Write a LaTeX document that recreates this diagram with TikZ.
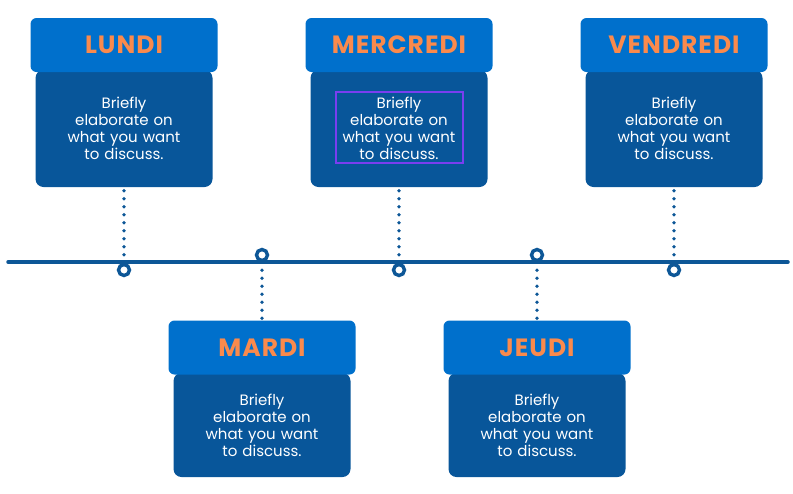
\documentclass[tikz,border=0pt]{standalone}
\usepackage{fontspec}
\setmainfont{Poppins}
\newfontfamily\headfont{Poppins}[BoldFont={* Bold}, LetterSpace=4]
\definecolor{headblue}{HTML}{0070CC}
\definecolor{bodyblue}{HTML}{08569A}
\definecolor{lineblue}{HTML}{0D5797}
\definecolor{dayorange}{HTML}{FA8A4C}
\definecolor{selpurple}{HTML}{7A3EF0}
\begin{document}
\begin{tikzpicture}[x=1pt,y=-1pt,
  cardbody/.style={fill=bodyblue, rounded corners=8pt, minimum width=177pt,
    minimum height=117pt, inner sep=0pt},
  cardhead/.style={fill=headblue, rounded corners=6pt, minimum width=187pt,
    minimum height=54pt, inner sep=0pt, text=dayorange,
    font=\headfont\bfseries\fontsize{25}{30}\selectfont},
  cardtext/.style={text=white, align=center, text width=134pt, inner sep=0pt,
    font=\fontsize{15}{17}\selectfont},
  stop/.style={circle, draw=lineblue, line width=3.4pt, fill=white,
    minimum size=11pt, inner sep=0pt},
  dots/.style={draw=lineblue, line width=3.8pt, line cap=round,
    dash pattern=on 0pt off 8pt},
]
\useasboundingbox (0,0) rectangle (793,493);

% timeline axis
\coordinate (axisL) at (8,262);
\coordinate (axisR) at (788,262);
\draw[lineblue, line width=3.5pt, line cap=round] (axisL) -- (axisR);

% cards above the axis
\foreach \name/\x/\day in {lun/124/LUNDI, mer/399/MERCREDI, ven/674/VENDREDI}{
  \node[cardbody] (\name b) at (\x,128.5) {};
  \node[cardhead] (\name h) at (\x,45) {\day};
  \node[cardtext] (\name t) at (\x,128.5) {Briefly\\elaborate on\\what you want\\to discuss.};
  \node[stop] (\name s) at (\x,270) {};
  \draw[dots] (\name s.north) ++(0,-8) -- (\name b.south);
}

% cards below the axis
\foreach \name/\x/\day in {mar/262/MARDI, jeu/537/JEUDI}{
  \node[cardbody, minimum height=104pt] (\name b) at (\x,425) {};
  \node[cardhead] (\name h) at (\x,347.5) {\day};
  \node[cardtext] (\name t) at (\x,425.5) {Briefly\\elaborate on\\what you want\\to discuss.};
  \node[stop] (\name s) at (\x,255) {};
  \draw[dots] (\name s.south) ++(0,8) -- (\name h.north);
}

% selection frame around the Wednesday text
\node[draw=selpurple, line width=1.2pt, minimum width=127pt, minimum height=71pt,
  inner sep=0pt] (sel) at (399.5,127.5) {};
\end{tikzpicture}
\end{document}
